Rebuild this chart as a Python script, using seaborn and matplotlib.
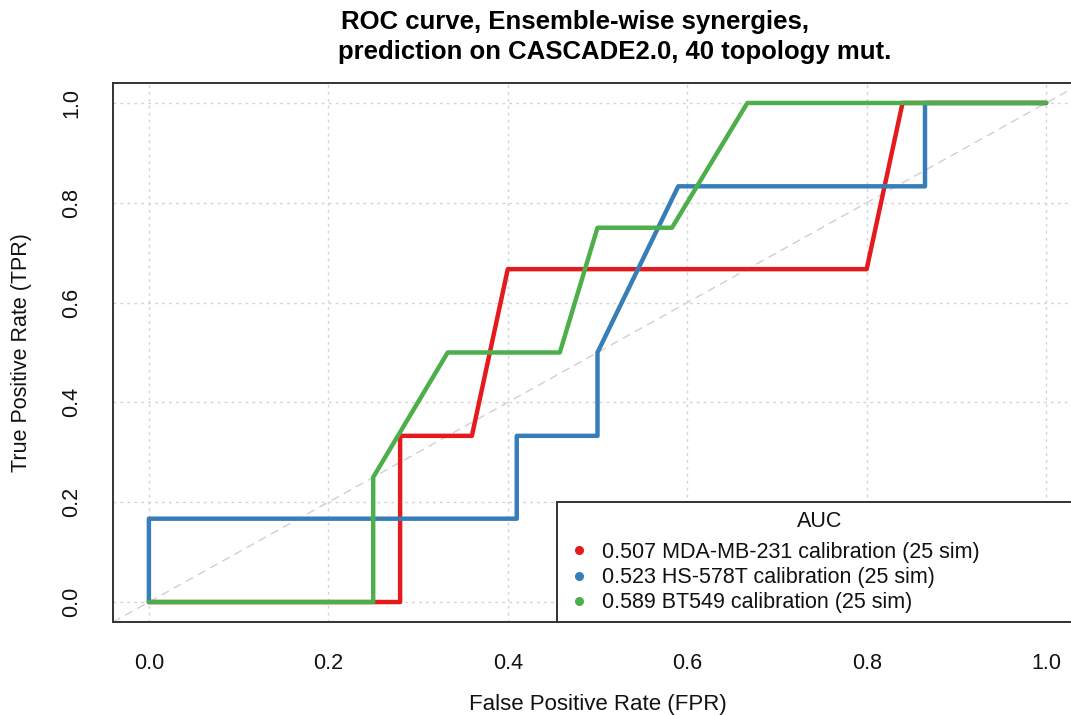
import matplotlib
matplotlib.use("Agg")
import matplotlib.pyplot as plt
import seaborn as sns
import pandas as pd
from matplotlib.lines import Line2D

# ---- data ----
red_fpr = [0.0, 0.28, 0.28, 0.36, 0.40, 0.80, 0.84, 1.0]
red_tpr = [0.0, 0.0, 0.333, 0.333, 0.667, 0.667, 1.0, 1.0]
blue_fpr = [0.0, 0.0, 0.41, 0.41, 0.50, 0.50, 0.59, 0.865, 0.865, 1.0]
blue_tpr = [0.0, 0.167, 0.167, 0.333, 0.333, 0.5, 0.833, 0.833, 1.0, 1.0]
green_fpr = [0.0, 0.25, 0.25, 0.333, 0.458, 0.50, 0.583, 0.667, 1.0]
green_tpr = [0.0, 0.0, 0.25, 0.5, 0.5, 0.75, 0.75, 1.0, 1.0]
labels = ["0.507 MDA-MB-231 calibration (25 sim)",
          "0.523 HS-578T calibration (25 sim)",
          "0.589 BT549 calibration (25 sim)"]
colors = ["#E41A1C", "#377EB8", "#4DAF4A"]
ticks = [0.0, 0.2, 0.4, 0.6, 0.8, 1.0]
tick_labels = ["0.0", "0.2", "0.4", "0.6", "0.8", "1.0"]

frames = []
for lab, fx, ty in zip(labels, [red_fpr, blue_fpr, green_fpr], [red_tpr, blue_tpr, green_tpr]):
    frames.append(pd.DataFrame({"FPR": fx, "TPR": ty, "curve": lab, "order": range(len(fx))}))
df = pd.concat(frames, ignore_index=True)

sns.set_style("white")
plt.rcParams['font.family'] = ['Liberation Sans', 'DejaVu Sans']

W, H = 1071, 715
fig = plt.figure(figsize=(W / 100, H / 100), dpi=100)
ax = fig.add_axes([113 / W, (H - 622) / H, 969 / W, 539 / H])

# grid
for t in ticks:
    ax.axhline(t, color="#d3d3d3", lw=1.0, ls=(0, (2, 3)), zorder=0)
    ax.axvline(t, color="#d3d3d3", lw=1.0, ls=(0, (2, 3)), zorder=0)

# diagonal reference
ax.axline((0, 0), (1, 1), color="#d0d0d0", lw=1.0, ls=(0, (6, 4)), zorder=1)

sns.lineplot(data=df, x="FPR", y="TPR", hue="curve", palette=colors,
             sort=False, estimator=None, units="curve", lw=3.2, ax=ax,
             legend=False, zorder=3)

ax.set_xlim(-0.04, 1.04)
ax.set_ylim(-0.04, 1.04)
ax.set_xticks(ticks)
ax.set_xticklabels(tick_labels)
ax.set_yticks(ticks)
ax.set_yticklabels(tick_labels, rotation=90, va="center")
ax.tick_params(axis="both", direction="out", length=9, width=1.3, color="#333333",
               labelsize=15.5, pad=13, labelcolor="#111111")
for s in ax.spines.values():
    s.set_visible(True)
    s.set_color("#333333")
    s.set_linewidth(1.4)

ax.set_xlabel("False Positive Rate (FPR)", fontsize=16, color="#111111", labelpad=15)
ax.set_ylabel("True Positive Rate (TPR)", fontsize=15.5, color="#111111", labelpad=21)

handles = [Line2D([], [], ls="none", marker="o", markersize=5.5, color=c) for c in colors]
leg = ax.legend(handles, labels, title="AUC", loc="lower left",
                bbox_to_anchor=(444 / 969, 0, 525 / 969, 0.221), mode="expand",
                borderaxespad=0, fontsize=15.5, title_fontsize=15.5,
                frameon=True, fancybox=False, handletextpad=0.5,
                handlelength=1.2, labelspacing=0.2, borderpad=0.4)
leg._legend_box.sep += 4
fr = leg.get_frame()
fr.set_edgecolor("#333333")
fr.set_linewidth(1.4)
fr.set_alpha(1.0)
for t in leg.get_texts():
    t.set_color("#111111")
leg.get_title().set_color("#111111")

fig.text(575 / W, 1 - 22 / H, "ROC curve, Ensemble-wise synergies,", ha="center", va="center",
         fontsize=18.5, fontweight="bold", color="black")
fig.text(615 / W, 1 - 52 / H, "prediction on CASCADE2.0, 40 topology mut.", ha="center", va="center",
         fontsize=18.5, fontweight="bold", color="black")

fig.savefig("out.png", dpi=100)
